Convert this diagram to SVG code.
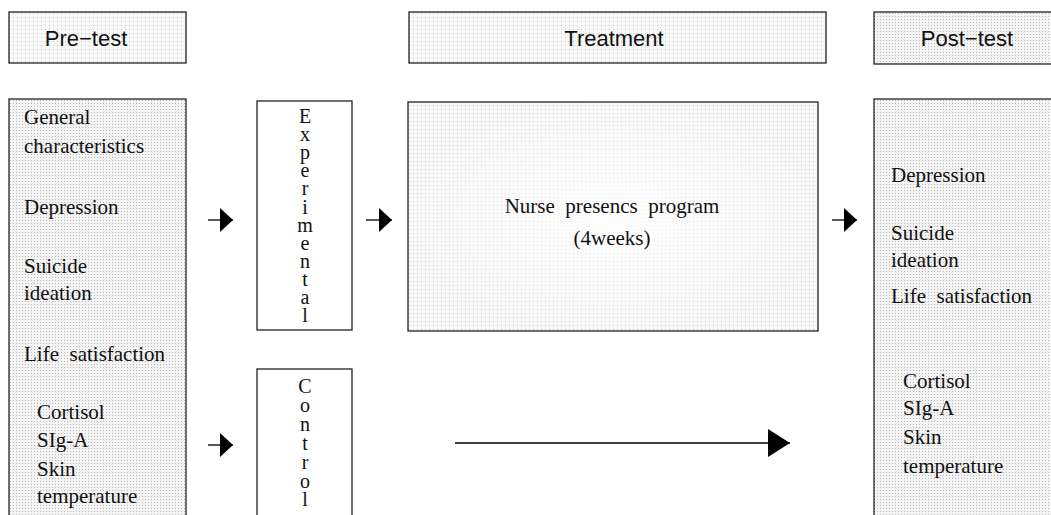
<svg xmlns="http://www.w3.org/2000/svg" width="1051" height="515" viewBox="0 0 1051 515">
<defs>
<pattern id="dots" width="3" height="3" patternUnits="userSpaceOnUse">
<rect width="3" height="3" fill="#f4f4f4"/>
<rect x="1" y="1" width="1" height="1" fill="#b8b8b8"/>
</pattern>
<pattern id="dotsL" width="4" height="4" patternUnits="userSpaceOnUse">
<rect width="4" height="4" fill="#f8f8f8"/>
<rect x="1" y="1" width="1" height="1" fill="#c4c4c4"/>
</pattern>
<radialGradient id="fade" cx="0.5" cy="0.5" r="0.55">
<stop offset="0" stop-color="#ffffff" stop-opacity="0.85"/>
<stop offset="1" stop-color="#ffffff" stop-opacity="0"/>
</radialGradient>
<marker id="ah" viewBox="0 0 13 24" refX="13" refY="12" markerWidth="13" markerHeight="24" markerUnits="userSpaceOnUse" orient="auto">
<path d="M0,0 L13,12 L0,24 Z" fill="#000"/>
</marker>
<marker id="ahL" viewBox="0 0 22 28" refX="22" refY="14" markerWidth="22" markerHeight="28" markerUnits="userSpaceOnUse" orient="auto">
<path d="M0,0 L22,14 L0,28 Z" fill="#000"/>
</marker>
</defs>
<style>
.box{stroke:#222;stroke-width:1.3}
.hdr{font-family:"Liberation Sans",Arial,sans-serif;font-size:22px;fill:#111;text-anchor:middle}
.t{font-family:"Liberation Serif","Times New Roman",serif;font-size:21px;fill:#111;white-space:pre}
.v{font-family:"Liberation Serif","Times New Roman",serif;font-size:20px;fill:#111;writing-mode:vertical-rl;text-orientation:upright}
.c{font-family:"Liberation Serif","Times New Roman",serif;font-size:21px;fill:#111;text-anchor:middle;white-space:pre}
.conn{stroke:#000;stroke-width:1.3;fill:none}
</style>
<rect width="1051" height="515" fill="#fff"/>

<g id="pretest-header">
<rect class="box" x="9" y="12" width="177" height="51" fill="url(#dotsL)"/>
<text class="hdr" x="86" y="46">Pre−test</text>
</g>
<g id="treatment-header">
<rect class="box" x="409" y="12" width="417" height="51" fill="url(#dotsL)"/>
<text class="hdr" x="614" y="46">Treatment</text>
</g>
<g id="posttest-header">
<rect class="box" x="874" y="12" width="185" height="52" fill="url(#dots)"/>
<text class="hdr" x="967" y="46">Post−test</text>
</g>

<g id="pretest">
<rect class="box" x="9" y="99" width="177" height="430" fill="url(#dots)"/>
<text class="t" x="24" y="124">General</text>
<text class="t" x="24" y="153">characteristics</text>
<text class="t" x="24" y="214">Depression</text>
<text class="t" x="24" y="273">Suicide</text>
<text class="t" x="24" y="300">ideation</text>
<text class="t" x="24" y="361" xml:space="preserve">Life  satisfaction</text>
<text class="t" x="37" y="419">Cortisol</text>
<text class="t" x="37" y="447">SIg-A</text>
<text class="t" x="37" y="476">Skin</text>
<text class="t" x="37" y="503">temperature</text>
</g>

<g id="experimental">
<rect class="box" x="257" y="101" width="95" height="229" fill="#fff"/>
<text class="v" x="305" y="105" letter-spacing="-3.9">Experimental</text>
</g>

<g id="control">
<rect class="box" x="257" y="369" width="95" height="160" fill="#fff"/>
<text class="v" x="305" y="375" letter-spacing="-3.1">Control</text>
</g>

<g id="treatment">
<rect class="box" x="408" y="102" width="410" height="229" fill="url(#dotsL)"/>
<rect x="409" y="103" width="408" height="227" fill="url(#fade)"/>
<text class="c" x="612" y="213" xml:space="preserve">Nurse  presencs  program</text>
<text class="c" x="612" y="245">(4weeks)</text>
</g>

<g id="posttest">
<rect class="box" x="874" y="99" width="185" height="430" fill="url(#dots)"/>
<text class="t" x="891" y="182">Depression</text>
<text class="t" x="891" y="240">Suicide</text>
<text class="t" x="891" y="267">ideation</text>
<text class="t" x="891" y="303" xml:space="preserve">Life  satisfaction</text>
<text class="t" x="903" y="388">Cortisol</text>
<text class="t" x="903" y="415">SIg-A</text>
<text class="t" x="903" y="444">Skin</text>
<text class="t" x="903" y="473">temperature</text>
</g>

<g id="connectors">
<line class="conn" x1="208" y1="220" x2="233" y2="220" marker-end="url(#ah)"/>
<line class="conn" x1="366" y1="220" x2="392" y2="220" marker-end="url(#ah)"/>
<line class="conn" x1="832" y1="220" x2="857" y2="220" marker-end="url(#ah)"/>
<line class="conn" x1="208" y1="445" x2="233" y2="445" marker-end="url(#ah)"/>
<line class="conn" x1="455" y1="443" x2="790" y2="443" marker-end="url(#ahL)"/>
</g>
</svg>
